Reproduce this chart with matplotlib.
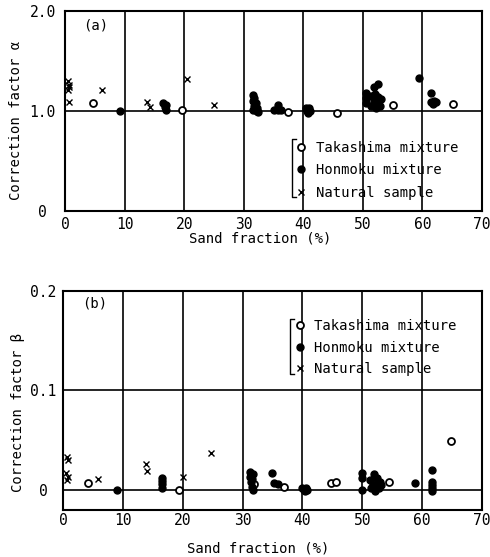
import numpy as np
import matplotlib
matplotlib.use("Agg")
import matplotlib.pyplot as plt

plt.rcParams['font.family'] = ['DejaVu Sans Mono', 'DejaVu Sans']

# panel (a): correction factor alpha
tak_a_x = [4.7, 19.6, 32.3, 37.4, 45.6, 55.0, 65.1]
tak_a_y = [1.08, 1.01, 1.00, 0.99, 0.98, 1.06, 1.07]

hon_a_x = [9.3, 16.5, 17.0, 16.7, 16.9,
           31.6, 31.7, 31.5, 32.0, 31.8, 32.2, 31.6, 32.4,
           35.7, 35.0, 35.8, 36.3,
           40.5, 41.0, 40.6, 41.1, 40.8,
           50.6, 50.6, 50.6, 51.9, 52.6,
           51.4, 52.1, 52.6, 53.0, 51.8, 52.5, 51.3, 52.9, 52.2,
           59.4, 61.5, 61.5, 62.0, 61.7, 62.3]
hon_a_y = [1.00, 1.08, 1.06, 1.04, 1.01,
           1.16, 1.13, 1.10, 1.08, 1.05, 1.03, 1.01, 0.99,
           1.06, 1.01, 1.01, 1.01,
           1.03, 1.03, 1.00, 1.00, 0.98,
           1.18, 1.13, 1.08, 1.24, 1.27,
           1.15, 1.17, 1.14, 1.12, 1.10, 1.08, 1.05, 1.05, 1.03,
           1.33, 1.18, 1.09, 1.10, 1.07, 1.09]

nat_a_x = [0.5, 0.6, 0.7, 0.5, 0.6, 6.2, 13.8, 14.2, 20.4, 25.0]
nat_a_y = [1.30, 1.26, 1.24, 1.21, 1.09, 1.21, 1.09, 1.04, 1.32, 1.06]

# panel (b): correction factor beta
tak_b_x = [4.2, 19.4, 31.9, 36.9, 44.7, 45.6, 54.4, 64.8]
tak_b_y = [0.007, 0.0, 0.006, 0.003, 0.007, 0.008, 0.008, 0.049]

hon_b_x = [9.0, 16.6, 16.6, 16.6, 16.6,
           31.3, 31.7, 31.2, 31.6, 31.4, 31.5, 31.7,
           35.0, 35.3, 36.0,
           40.0, 40.6, 40.3, 40.8, 40.5,
           49.9, 49.9, 49.9,
           52.0, 51.3, 52.5, 53.0, 51.8, 52.3, 52.8, 51.5, 52.2, 53.2,
           58.8, 61.6, 61.6, 61.6, 61.6, 61.6]
hon_b_y = [0.0, 0.012, 0.009, 0.006, 0.002,
           0.018, 0.016, 0.013, 0.011, 0.008, 0.003, 0.0,
           0.017, 0.007, 0.006,
           0.002, 0.002, 0.0, 0.0, -0.001,
           0.017, 0.012, 0.0,
           0.016, 0.010, 0.012, 0.008, 0.006, 0.004, 0.002, 0.002, -0.001, 0.005,
           0.007, 0.020, 0.008, 0.005, 0.002, -0.001]

nat_b_x = [0.6, 0.9, 0.5, 0.8, 0.6, 5.9, 13.9, 14.1, 20.1, 24.8]
nat_b_y = [0.033, 0.030, 0.017, 0.013, 0.010, 0.011, 0.026, 0.019, 0.013, 0.037]

xticks = [0, 10, 20, 30, 40, 50, 60, 70]
labels = ['Takashima mixture', 'Honmoku mixture', 'Natural sample']

fig = plt.figure(figsize=(4.9, 5.57), dpi=100)
ax1 = fig.add_axes([0.1327, 0.6212, 0.851, 0.359])
ax2 = fig.add_axes([0.1286, 0.0844, 0.855, 0.3932])


def draw(ax, tx, ty, hx, hy, nx, ny):
    ax.plot(tx, ty, 'o', ms=5, mfc='white', mec='black', mew=1.3,
            ls='none', label=labels[0], zorder=3)
    ax.plot(hx, hy, 'o', ms=5, color='black', ls='none',
            label=labels[1], zorder=3)
    ax.plot(nx, ny, 'x', ms=5, color='black', mew=1.0, ls='none',
            label=labels[2], zorder=3)
    ax.set_xlim(0, 70)
    ax.set_xticks(xticks)
    ax.grid(True, color='black', lw=1.2)
    ax.set_axisbelow(True)
    for s in ax.spines.values():
        s.set_linewidth(1.5)
    ax.tick_params(length=0, labelsize=10.5)


draw(ax1, tak_a_x, tak_a_y, hon_a_x, hon_a_y, nat_a_x, nat_a_y)
ax1.set_ylim(0, 2.0)
ax1.set_yticks([0, 1.0, 2.0])
ax1.set_yticklabels(['0', '1.0', '2.0'], ha='center')
ax1.tick_params(axis='y', pad=16)
ax1.tick_params(axis='x', pad=4)
ax1.set_ylabel('Correction factor α', fontsize=10)
ax1.yaxis.set_label_coords(-0.10, 0.455)
ax1.set_xlabel('Sand fraction (%)', fontsize=10)
ax1.xaxis.set_label_coords(0.468, -0.105)
ax1.text(0.043, 0.93, '(a)', transform=ax1.transAxes, fontsize=10,
         va='center')
ax1.legend(loc='upper left', bbox_to_anchor=(0.555, 0.35),
           frameon=False, fontsize=10, handlelength=0.7,
           handletextpad=0.7, labelspacing=0.6, borderpad=0,
           borderaxespad=0)
ax1.plot([0.553, 0.544, 0.544, 0.553], [0.36, 0.36, 0.07, 0.07],
         transform=ax1.transAxes, color='black', lw=1.0, clip_on=False)

draw(ax2, tak_b_x, tak_b_y, hon_b_x, hon_b_y, nat_b_x, nat_b_y)
ax2.set_ylim(-0.0202, 0.2)
ax2.set_yticks([0, 0.1, 0.2])
ax2.set_yticklabels(['0', '0.1', '0.2'], ha='center')
ax2.tick_params(axis='y', pad=14.5)
ax2.tick_params(axis='x', pad=2)
ax2.set_ylabel('Correction factor β', fontsize=10)
ax2.yaxis.set_label_coords(-0.09, 0.447)
ax2.set_xlabel('Sand fraction (%)', fontsize=10)
ax2.xaxis.set_label_coords(0.465, -0.142)
ax2.text(0.045, 0.945, '(b)', transform=ax2.transAxes, fontsize=10,
         va='center')
ax2.legend(loc='upper left', bbox_to_anchor=(0.553, 0.872),
           frameon=False, fontsize=10, handlelength=0.7,
           handletextpad=0.7, labelspacing=0.55, borderpad=0,
           borderaxespad=0)
ax2.plot([0.551, 0.542, 0.542, 0.551], [0.872, 0.872, 0.621, 0.621],
         transform=ax2.transAxes, color='black', lw=1.0, clip_on=False)

fig.savefig('out.png', dpi=100, facecolor='white')
